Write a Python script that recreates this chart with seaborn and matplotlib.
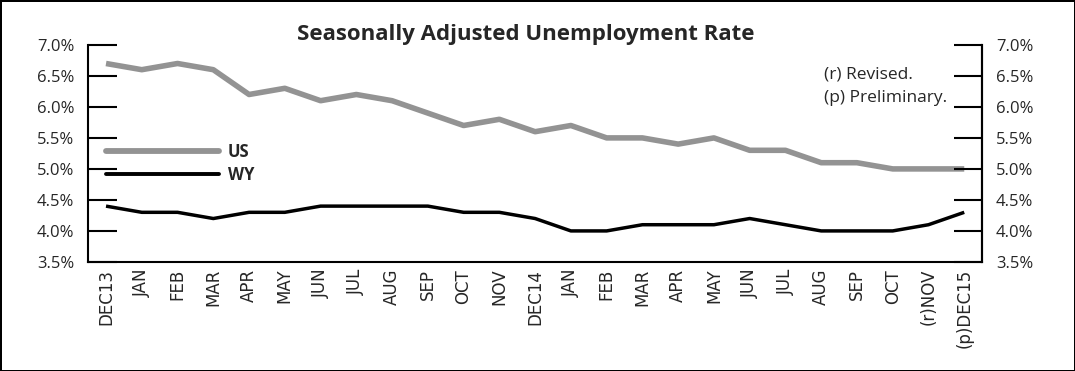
import matplotlib
matplotlib.use("Agg")
import matplotlib.pyplot as plt
import seaborn as sns
import pandas as pd

months = ['DEC13', 'JAN', 'FEB', 'MAR', 'APR', 'MAY', 'JUN', 'JUL', 'AUG', 'SEP', 'OCT', 'NOV',
          'DEC14', 'JAN', 'FEB', 'MAR', 'APR', 'MAY', 'JUN', 'JUL', 'AUG', 'SEP', 'OCT',
          '(r)NOV', '(p)DEC15']
us = [6.7, 6.6, 6.7, 6.6, 6.2, 6.3, 6.1, 6.2, 6.1, 5.9, 5.7, 5.8,
      5.6, 5.7, 5.5, 5.5, 5.4, 5.5, 5.3, 5.3, 5.1, 5.1, 5.0, 5.0, 5.0]
wy = [4.4, 4.3, 4.3, 4.2, 4.3, 4.3, 4.4, 4.4, 4.4, 4.4, 4.3, 4.3,
      4.2, 4.0, 4.0, 4.1, 4.1, 4.1, 4.2, 4.1, 4.0, 4.0, 4.0, 4.1, 4.3]
yticks = [3.5, 4.0, 4.5, 5.0, 5.5, 6.0, 6.5, 7.0]

sns.set_style("white")
plt.rcParams['font.family'] = ['Open Sans', 'DejaVu Sans']

idx = list(range(len(months)))
df = pd.DataFrame({'pos': idx * 2, 'rate': us + wy,
                   'series': ['US'] * len(us) + ['WY'] * len(wy)})

fig = plt.figure(figsize=(10.75, 3.71), dpi=100, edgecolor='black', linewidth=2)
ax = fig.add_axes([0.082, 0.294, 0.8316, 0.585])

sns.lineplot(data=df, x='pos', y='rate', hue='series',
             palette={'US': '#939393', 'WY': 'black'}, ax=ax, legend=False)
ax.lines[0].set_linewidth(4.0)
ax.lines[1].set_linewidth(2.5)
for ln in ax.lines:
    ln.set_solid_capstyle('butt')

ax.set_xlim(-0.5, len(months) - 0.5)
ax.set_ylim(3.5, 7.0)
ax.set_xlabel('')
ax.set_ylabel('')

# category labels centred, tick marks on the boundaries
ax.set_xticks(idx)
ax.set_xticklabels(months, rotation=90, fontsize=12, family='DejaVu Sans')
ax.set_xticks([i + 0.5 for i in idx[:-1]], minor=True)
ax.tick_params(axis='x', which='major', length=0, pad=5)
ax.tick_params(axis='x', which='minor', direction='in', length=6, width=1.2, color='black')

ax.set_yticks(yticks)
ax.set_yticklabels(['%.1f%%' % v for v in yticks], fontsize=12)
ax.tick_params(axis='y', direction='in', length=21, width=1.5, color='black', pad=10)

ax.spines['top'].set_visible(False)
for side in ['left', 'bottom', 'right']:
    ax.spines[side].set_color('black')
    ax.spines[side].set_linewidth(1.5)

ax2 = ax.twinx()
ax2.set_ylim(3.5, 7.0)
ax2.set_yticks(yticks)
ax2.set_yticklabels(['%.1f%%' % v for v in yticks], fontsize=12)
ax2.tick_params(axis='y', direction='in', length=20, width=1.5, color='black', pad=10)
for side in ['top', 'left', 'bottom']:
    ax2.spines[side].set_visible(False)
ax2.spines['right'].set_color('black')
ax2.spines['right'].set_linewidth(1.5)

handles = [plt.Line2D([], [], color='#939393', lw=4.2, solid_capstyle='round'),
           plt.Line2D([], [], color='black', lw=2.8, solid_capstyle='round')]
ax.legend(handles, ['US', 'WY'], loc='upper left', bbox_to_anchor=(0.02, 0.55),
          frameon=False, handlelength=6.8, handletextpad=0.5, labelspacing=0.3,
          borderpad=0, borderaxespad=0, prop={'weight': 'bold', 'size': 12})

ax.text(0.823, 0.864, '(r) Revised.', transform=ax.transAxes, fontsize=12.5, va='center')
ax.text(0.823, 0.755, '(p) Preliminary.', transform=ax.transAxes, fontsize=12.5, va='center')

fig.text(0.489, 0.908, 'Seasonally Adjusted Unemployment Rate', ha='center', va='center',
         fontsize=16, fontweight='bold')

fig.savefig('out.png', dpi=100)
